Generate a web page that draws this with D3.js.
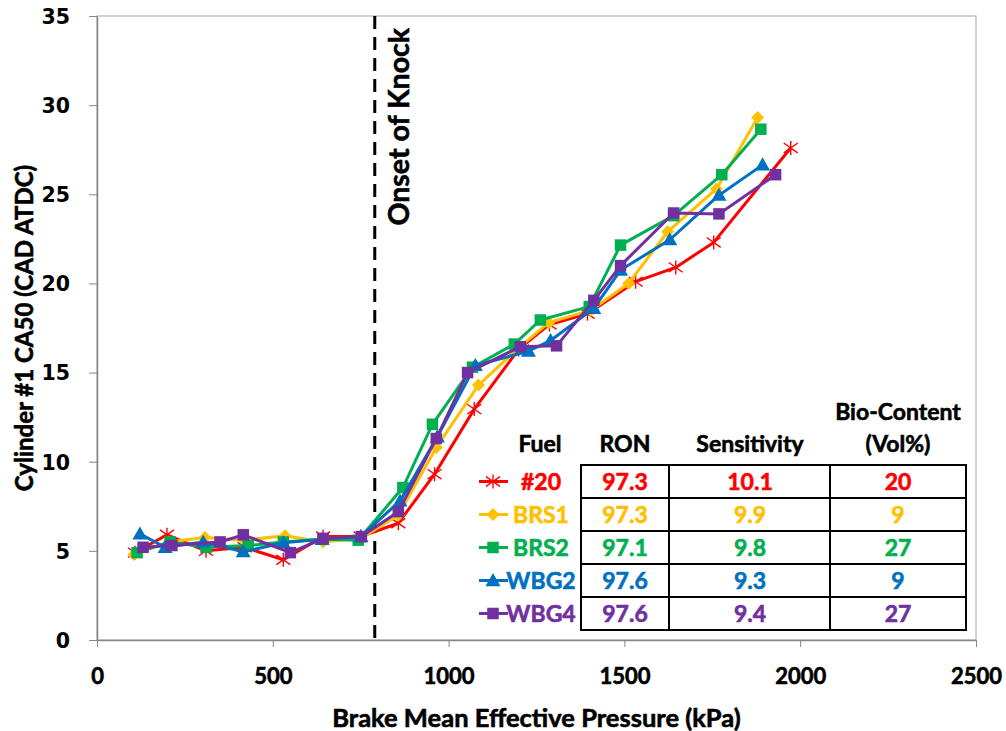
<!DOCTYPE html>
<html><head><meta charset="utf-8">
<script src="https://cdn.jsdelivr.net/npm/d3@7"></script>
<style>
body{margin:0;background:#fff;}
svg{display:block;}
</style></head>
<body>
<svg id="chart" width="1006" height="731"></svg>
<script>
// ---- data ----
const fuels = ["#20","BRS1","BRS2","WBG2","WBG4"];
const colors = ["#FF0000","#FFC000","#00B050","#0070C0","#7030A0"];
const markers = ["star","diamond","square","triangle","square"];
const ron = ["97.3","97.3","97.1","97.6","97.6"];
const sensitivity = ["10.1","9.9","9.8","9.3","9.4"];
const bioContent = ["20","9","27","9","27"];

const bmep20 = [108,199,310,420,530,643,750,857,960,1073,1199,1287,1395,1532,1646,1754,1973];
const ca50_20 = [4.9,5.9,5.0,5.2,4.5,5.8,5.8,6.55,9.3,12.95,16.3,17.7,18.3,20.1,20.9,22.3,27.6];

const bmepBRS1 = [105,205,307,420,535,643,750,857,965,1085,1200,1285,1405,1512,1623,1762,1879];
const ca50_BRS1 = [4.8,5.5,5.75,5.6,5.85,5.5,5.7,7.0,10.8,14.3,16.4,17.8,18.5,20.0,22.9,25.3,29.3];

const bmepBRS2 = [114,208,310,430,530,643,743,870,954,1068,1187,1261,1400,1489,1640,1777,1888];
const ca50_BRS2 = [4.9,5.5,5.2,5.3,5.5,5.65,5.6,8.55,12.1,15.3,16.6,17.95,18.7,22.15,23.8,26.1,28.65];

const bmepWBG2 = [122,194,302,416,530,640,750,862,968,1076,1227,1290,1413,1489,1629,1769,1893];
const ca50_WBG2 = [5.95,5.2,5.5,4.95,5.45,5.65,5.8,7.8,11.4,15.4,16.2,16.8,18.6,20.75,22.45,24.95,26.65];

const bmepWBG4 = [131,213,350,416,550,643,752,857,965,1054,1204,1307,1413,1489,1640,1769,1930];
const ca50_WBG4 = [5.2,5.3,5.5,5.9,4.9,5.7,5.8,7.2,11.3,15.0,16.45,16.5,19.05,21.0,23.95,23.9,26.1];

const xTicks = [0,500,1000,1500,2000,2500];
const yTicks = [0,5,10,15,20,25,30,35];
const knockBmep = 790;

const seriesX = [bmep20,bmepBRS1,bmepBRS2,bmepWBG2,bmepWBG4];
const seriesY = [ca50_20,ca50_BRS1,ca50_BRS2,ca50_WBG2,ca50_WBG4];

// ---- layout ----
const svg = d3.select("#chart");
const L = 97, R = 976, T = 16, B = 640;
const x = d3.scaleLinear().domain([0,2500]).range([L,R]);
const y = d3.scaleLinear().domain([0,35]).range([B,T]);
const font = "Lato, 'Open Sans', sans-serif";

function heavy(sel, color){
  return sel.attr("font-family",font).attr("font-weight","bold")
    .attr("fill",color).attr("stroke",color).attr("stroke-width",0.6).attr("paint-order","stroke");
}

const axisColor = "#868686";
svg.append("rect").attr("x",L).attr("y",T).attr("width",R-L).attr("height",B-T)
  .attr("fill","none").attr("stroke","#a6a6a6").attr("stroke-width",1);

const xAxis = svg.append("g").attr("transform",`translate(0,${B})`)
  .call(d3.axisBottom(x).tickValues(xTicks).tickSize(7).tickSizeOuter(0).tickFormat(d3.format("d")));
const yAxis = svg.append("g").attr("transform",`translate(${L},0)`)
  .call(d3.axisLeft(y).tickValues(yTicks).tickSize(8).tickSizeOuter(0).tickFormat(d3.format("d")));
[xAxis,yAxis].forEach(g=>{
  g.select(".domain").attr("stroke",axisColor).attr("stroke-width",1.5);
  g.selectAll(".tick line").attr("stroke",axisColor).attr("stroke-width",1);
});
heavy(xAxis.selectAll("text"),"#000").attr("font-size",22).attr("dy",0).attr("y",44);
yAxis.selectAll("text").attr("font-family","'DejaVu Sans', Verdana, sans-serif").attr("font-weight","bold")
  .attr("font-size",20.5).attr("fill","#000").attr("x",-27).attr("dy","0.36em");

heavy(svg.append("text"),"#000").attr("x",(L+R)/2).attr("y",727).attr("text-anchor","middle")
  .attr("font-size",25.5).text("Brake Mean Effective Pressure (kPa)");
heavy(svg.append("text"),"#000").attr("transform",`translate(33,${(T+B)/2}) rotate(-90)`).attr("text-anchor","middle")
  .attr("font-size",24).text("Cylinder #1 CA50 (CAD ATDC)");

svg.append("line").attr("x1",x(knockBmep)).attr("x2",x(knockBmep)).attr("y1",T).attr("y2",B)
  .attr("stroke","#000").attr("stroke-width",3).attr("stroke-dasharray","13,8");
heavy(svg.append("text"),"#000").attr("transform",`translate(${x(knockBmep)+34},${T+12}) rotate(-90)`)
  .attr("text-anchor","end").attr("font-size",28.5).text("Onset of Knock");

function drawMarker(g, type, cx, cy, color){
  if(type==="star"){
    const r=7;
    g.append("path").attr("d",`M${cx},${cy-r}L${cx},${cy+r}M${cx-r},${cy-r*0.7}L${cx+r},${cy+r*0.7}M${cx-r},${cy+r*0.7}L${cx+r},${cy-r*0.7}`)
      .attr("stroke",color).attr("stroke-width",1.4).attr("fill","none");
  } else if(type==="diamond"){
    const r=6.5;
    g.append("path").attr("d",`M${cx},${cy-r}L${cx+r},${cy}L${cx},${cy+r}L${cx-r},${cy}Z`).attr("fill",color);
  } else if(type==="square"){
    const s=11.5;
    g.append("rect").attr("x",cx-s/2).attr("y",cy-s/2).attr("width",s).attr("height",s).attr("fill",color);
  } else if(type==="triangle"){
    const r=7.5;
    g.append("path").attr("d",`M${cx},${cy-r}L${cx+r},${cy+r*0.75}L${cx-r},${cy+r*0.75}Z`).attr("fill",color);
  }
}

const line = d3.line().x(d=>x(d[0])).y(d=>y(d[1]));
fuels.forEach((f,i)=>{
  const pts = seriesX[i].map((v,j)=>[v,seriesY[i][j]]);
  const g = svg.append("g");
  g.append("path").attr("d",line(pts)).attr("fill","none").attr("stroke",colors[i])
    .attr("stroke-width",3).attr("stroke-linejoin","round");
  pts.forEach(p=>drawMarker(g,markers[i],x(p[0]),y(p[1]),colors[i]));
});

const colEdges = [581,669,830,966];
const rowTop = 465, rowH = 33;
const tg = svg.append("g");
const hdr = [["Fuel",540,452],["RON",625,452],["Sensitivity",750,452],["Bio-Content",898,420],["(Vol%)",898,452]];
hdr.forEach(h=>heavy(tg.append("text"),"#000").attr("x",h[1]).attr("y",h[2]).attr("text-anchor","middle")
  .attr("font-size",23).text(h[0]));
fuels.forEach((f,i)=>{
  tg.append("rect").attr("x",colEdges[0]).attr("y",rowTop+i*rowH).attr("width",colEdges[3]-colEdges[0]).attr("height",rowH)
    .attr("fill","#fff").attr("stroke","#000").attr("stroke-width",2);
});
[colEdges[1],colEdges[2]].forEach(cx=>tg.append("line").attr("x1",cx).attr("x2",cx)
  .attr("y1",rowTop).attr("y2",rowTop+5*rowH).attr("stroke","#000").attr("stroke-width",2));
fuels.forEach((f,i)=>{
  const cy = rowTop+i*rowH+rowH/2;
  const cells=[[f,541],[ron[i],625],[sensitivity[i],750],[bioContent[i],898]];
  cells.forEach(c=>heavy(tg.append("text"),colors[i]).attr("x",c[1]).attr("y",cy).attr("dy","0.36em").attr("text-anchor","middle")
    .attr("font-size",23).text(c[0]));
  tg.append("line").attr("x1",479).attr("x2",508).attr("y1",cy).attr("y2",cy).attr("stroke",colors[i]).attr("stroke-width",3);
  drawMarker(tg,markers[i],493,cy,colors[i]);
});
</script>
</body></html>
